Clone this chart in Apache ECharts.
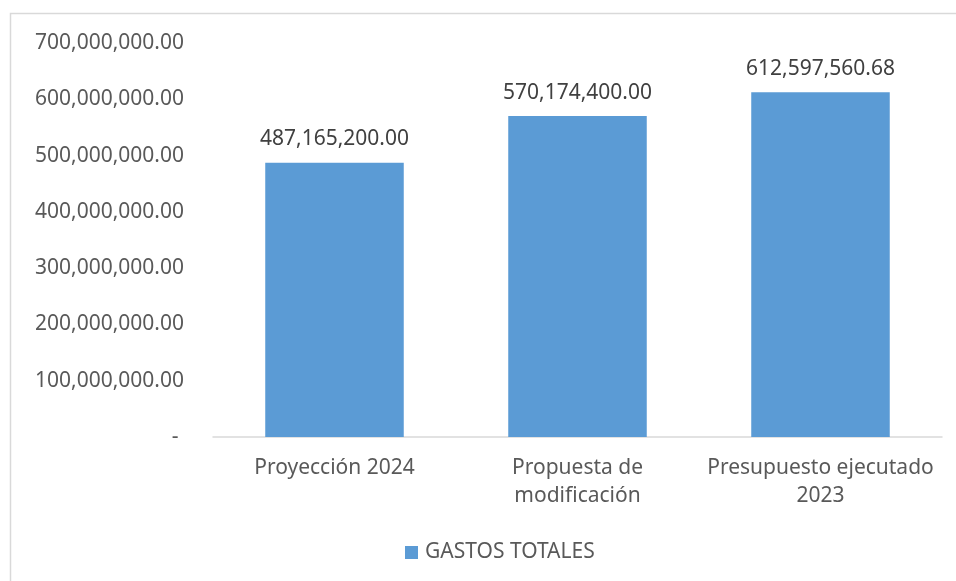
<!DOCTYPE html>
<html>
<head>
<meta charset="utf-8">
<script src="https://cdn.jsdelivr.net/npm/echarts@6/dist/echarts.min.js"></script>
<style>
  html, body { margin: 0; padding: 0; background: #fff; }
  #chart { width: 956px; height: 581px; }
</style>
</head>
<body>
<div id="chart"></div>
<script>
// datos del gráfico
var categories = ['Proyección 2024', 'Propuesta de\nmodificación', 'Presupuesto ejecutado\n2023']
var gastosTotales = [487165200.00, 570174400.00, 612597560.68]
var seriesName = 'GASTOS TOTALES'
var yTicks = [0, 100000000, 200000000, 300000000, 400000000, 500000000, 600000000, 700000000]

function fmt(v) {
  return Number(v).toLocaleString('en-US', { minimumFractionDigits: 2, maximumFractionDigits: 2 })
}

var font = '"Noto Sans", "Open Sans", sans-serif'
var myChart = echarts.init(document.getElementById('chart'))
myChart.setOption({
  animation: false,
  graphic: [{
    type: 'rect',
    shape: { x: 10.5, y: 13.5, width: 960, height: 600 },
    style: { fill: 'none', stroke: '#d9d9d9', lineWidth: 1.5 },
    silent: true
  }],
  grid: {
    left: 213,
    right: 14,
    top: 43,
    bottom: 144
  },
  legend: {
    top: 537,
    left: 400,
    itemWidth: 13,
    itemHeight: 13,
    icon: 'rect',
    textStyle: { color: '#595959', fontSize: 21, fontFamily: font, padding: [0, 0, 0, 2] },
    data: [seriesName]
  },
  xAxis: {
    type: 'category',
    data: categories,
    axisLine: { lineStyle: { color: '#d9d9d9', width: 1.5 } },
    axisTick: { show: false },
    axisLabel: {
      interval: 0,
      color: '#595959',
      fontSize: 21,
      fontFamily: font,
      margin: 17,
      lineHeight: 28
    }
  },
  yAxis: {
    type: 'value',
    min: yTicks[0],
    max: yTicks[yTicks.length - 1],
    interval: 100000000,
    splitLine: { show: false },
    axisLine: { show: false },
    axisTick: { show: false },
    axisLabel: {
      color: '#595959',
      fontSize: 21,
      fontFamily: font,
      margin: 29,
      formatter: function (v) {
        return v === 0 ? '- ' : fmt(v)
      }
    }
  },
  series: [{
    name: seriesName,
    type: 'bar',
    data: gastosTotales,
    barWidth: '57%',
    itemStyle: { color: '#5b9bd5' },
    label: {
      show: true,
      position: 'top',
      distance: 13,
      color: '#404040',
      fontSize: 21,
      fontFamily: font,
      formatter: function (p) { return fmt(p.value) }
    }
  }]
})
</script>
</body>
</html>
